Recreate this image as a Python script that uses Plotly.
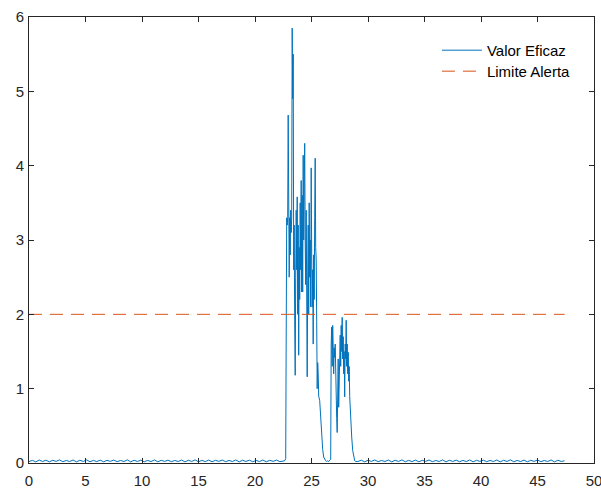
import plotly.graph_objects as go

# ---- data -------------------------------------------------------------
SAMPLE_STEP = 0.3  # s, baseline sampling of the quiet periods

# quiet period before the event (t = 0 .. 22.5)
base1_start = 0.0
base1_vals = [0.020, 0.035, 0.015, 0.040, 0.020, 0.038, 0.016, 0.036, 0.022, 0.042,
              0.018, 0.034, 0.020, 0.040, 0.015, 0.037, 0.021, 0.041, 0.017, 0.035,
              0.019, 0.039, 0.016, 0.036, 0.022, 0.040, 0.018, 0.034, 0.020, 0.042,
              0.015, 0.037, 0.021, 0.039, 0.017, 0.035, 0.019, 0.041, 0.016, 0.036,
              0.022, 0.038, 0.018, 0.034, 0.020, 0.040, 0.015, 0.037, 0.021, 0.042,
              0.017, 0.035, 0.019, 0.039, 0.016, 0.036, 0.022, 0.040, 0.018, 0.034,
              0.020, 0.041, 0.015, 0.037, 0.021, 0.038, 0.017, 0.035, 0.019, 0.040,
              0.016, 0.036, 0.022, 0.039, 0.018, 0.030]

# event (bursts)
burst_t = [22.628, 22.717, 22.761, 22.805, 22.850, 22.894, 22.938, 22.982, 23.027, 23.071,
           23.115, 23.159, 23.204, 23.248, 23.292, 23.336, 23.381, 23.425, 23.469, 23.513,
           23.558, 23.602, 23.646, 23.690, 23.735, 23.779, 23.823, 23.867, 23.912, 23.956,
           24.000, 24.044, 24.088, 24.133, 24.177, 24.221, 24.265, 24.310, 24.354, 24.398,
           24.442, 24.487, 24.531, 24.575, 24.619, 24.664, 24.708, 24.752, 24.796, 24.841,
           24.885, 24.929, 24.973, 25.018, 25.062, 25.106, 25.150, 25.195, 25.239, 25.283,
           25.327, 25.372, 25.416, 25.460, 25.504, 25.549, 25.593, 25.637, 25.726, 25.814,
           25.903, 25.991, 26.080, 26.168, 26.257, 26.345, 26.434, 26.522, 26.611, 26.699,
           26.743, 26.788, 26.832, 26.876, 26.920, 26.965, 27.009, 27.053, 27.097, 27.142,
           27.186, 27.230, 27.274, 27.319, 27.363, 27.407, 27.451, 27.496, 27.540, 27.584,
           27.628, 27.673, 27.717, 27.761, 27.805, 27.850, 27.894, 27.938, 27.982, 28.027,
           28.071, 28.115, 28.159, 28.204, 28.248, 28.292, 28.336, 28.381, 28.469, 28.558,
           28.646, 28.735, 28.823, 28.912]
burst_v = [0.03, 0.06, 2.20, 3.30, 3.20, 3.30, 4.68, 3.00, 2.50, 3.30,
           2.80, 3.40, 3.10, 3.30, 5.85, 4.90, 5.50, 2.60, 3.20, 1.90,
           1.18, 2.50, 3.40, 2.60, 3.58, 2.00, 3.20, 1.45, 2.90, 2.20,
           3.50, 2.60, 3.80, 2.30, 3.60, 2.30, 4.14, 3.00, 3.70, 4.30,
           3.00, 2.40, 3.40, 2.00, 1.16, 2.46, 3.20, 2.00, 3.50, 2.50,
           3.00, 2.10, 3.97, 2.80, 2.10, 2.60, 1.60, 2.80, 2.20, 3.30,
           4.10, 2.90, 2.73, 1.90, 1.00, 1.35, 1.20, 0.90, 0.84, 0.60,
           0.30, 0.18, 0.08, 0.04, 0.03, 0.02, 0.03, 0.02, 0.03, 0.05,
           1.60, 1.83, 1.30, 1.85, 1.56, 1.20, 1.55, 1.42, 1.60, 1.07,
           1.30, 0.60, 0.41, 1.10, 1.40, 0.75, 1.30, 1.55, 1.72, 1.30,
           1.85, 1.50, 1.96, 1.40, 1.70, 1.20, 1.50, 0.89, 1.60, 1.40,
           1.92, 1.30, 1.60, 1.20, 1.49, 1.10, 1.30, 0.89, 0.57, 0.35,
           0.17, 0.06, 0.03, 0.02]

# quiet period after the event (t = 29.1 .. 47.4)
base2_start = 29.1
base2_vals = [0.020, 0.038, 0.016, 0.036, 0.022, 0.041, 0.018, 0.034, 0.020, 0.040,
              0.015, 0.037, 0.021, 0.042, 0.017, 0.035, 0.019, 0.039, 0.016, 0.036,
              0.022, 0.040, 0.018, 0.034, 0.020, 0.042, 0.015, 0.037, 0.021, 0.039,
              0.017, 0.035, 0.019, 0.041, 0.016, 0.036, 0.022, 0.038, 0.018, 0.034,
              0.020, 0.040, 0.015, 0.037, 0.021, 0.042, 0.017, 0.035, 0.019, 0.039,
              0.016, 0.036, 0.022, 0.040, 0.018, 0.034, 0.020, 0.041, 0.015, 0.037,
              0.021, 0.030]

alert_t = [0.0, 47.4]
alert_v = [2.0, 2.0]

x_ticks = [0, 5, 10, 15, 20, 25, 30, 35, 40, 45, 50]
y_ticks = [0, 1, 2, 3, 4, 5, 6]

# ---- assemble time axis ----------------------------------------------
t1 = [round(base1_start + i * SAMPLE_STEP, 3) for i in range(len(base1_vals))]
t2 = [round(base2_start + i * SAMPLE_STEP, 3) for i in range(len(base2_vals))]
t_all = t1 + burst_t + t2
v_all = base1_vals + burst_v + base2_vals

# ---- figure -----------------------------------------------------------
FONT = "Liberation Sans, Arial, sans-serif"
AX = "#262626"

fig = go.Figure()
fig.add_trace(go.Scatter(x=t_all, y=v_all, mode="lines", name="Valor Eficaz",
                         line=dict(color="#0072BD", width=1), legend="legend"))
fig.add_trace(go.Scatter(x=alert_t, y=alert_v, mode="lines", name="Limite Alerta",
                         line=dict(color="#D95319", width=1, dash="13px,8px"),
                         legend="legend2"))

axis_common = dict(showgrid=False, zeroline=False, showline=True, linecolor=AX,
                   linewidth=1, mirror="ticks", ticks="inside", ticklen=5,
                   tickcolor=AX, tickwidth=1, automargin=False,
                   ticklabeloverflow="allow",
                   tickfont=dict(family=FONT, size=15, color=AX))

leg_common = dict(xanchor="left", yanchor="top", bgcolor="rgba(255,255,255,0)",
                  borderwidth=0, itemwidth=40,
                  font=dict(family=FONT, size=15, color="#000000"))

fig.update_layout(
    width=601, height=488,
    margin=dict(l=29, r=7, t=17, b=25, autoexpand=False),
    paper_bgcolor="white", plot_bgcolor="white",
    xaxis=dict(range=[0, 50], tickvals=x_ticks, ticklabelstandoff=4, **axis_common),
    yaxis=dict(range=[0, 6], tickvals=y_ticks, ticklabelstandoff=1, **axis_common),
    legend=dict(x=0.722, y=0.962, **leg_common),
    legend2=dict(x=0.722, y=0.915, **leg_common),
    showlegend=True,
)

fig.write_html("out.html", config={"displayModeBar": False},
               post_script="document.body.style.margin='0';document.body.style.overflow='hidden';")
